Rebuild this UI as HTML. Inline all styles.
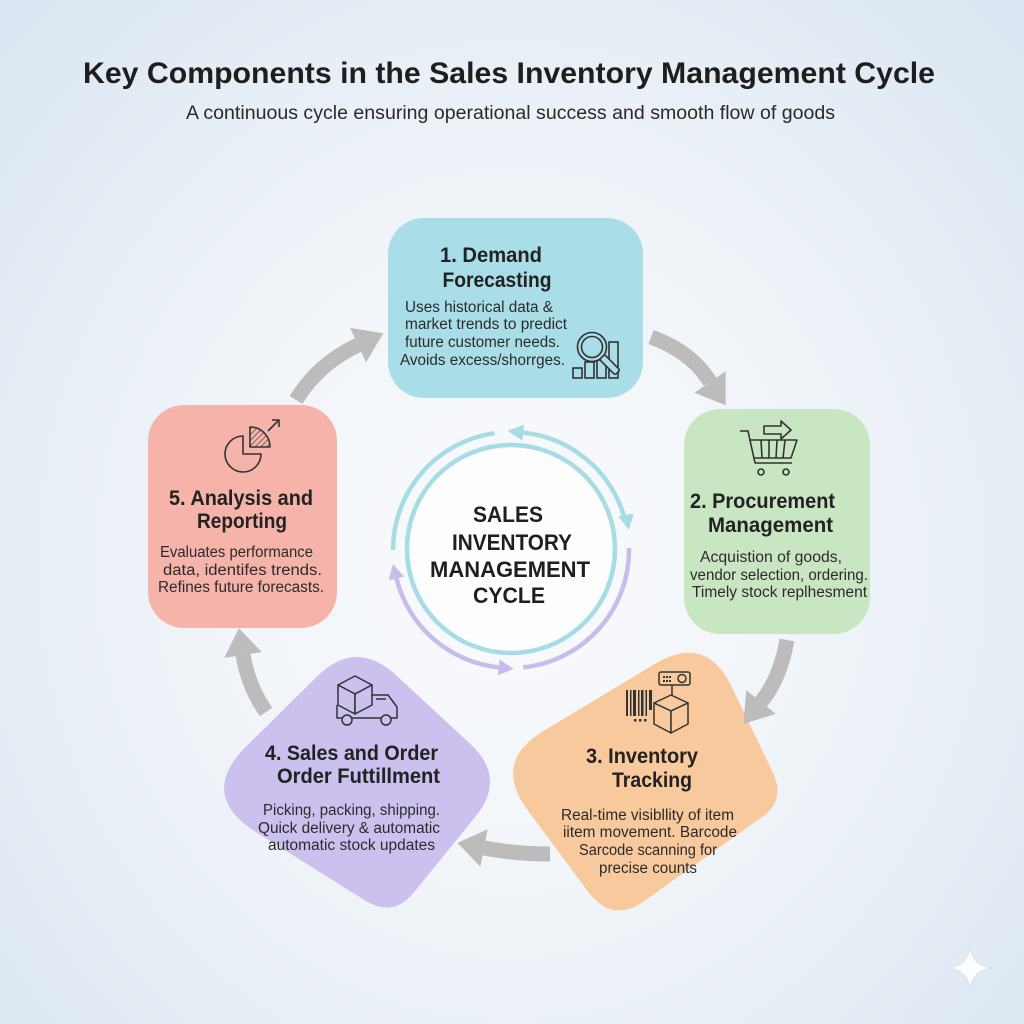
<!DOCTYPE html>
<html><head><meta charset="utf-8"><style>
html,body{margin:0;padding:0;width:1024px;height:1024px;overflow:hidden;}
body{background:radial-gradient(ellipse at 50% 55%, #fafbfd 0%, #f1f5f9 40%, #e2ebf4 80%, #d9e5f1 100%);}
svg{display:block;}
text{font-family:"Liberation Sans",Arial,sans-serif;}
.t{font-weight:700;font-size:21px;fill:#222;}
.b{font-size:15.5px;fill:#2b2b2b;}
.c{font-weight:700;font-size:22px;fill:#1f1f1f;}
</style></head><body>
<svg width="1024" height="1024" viewBox="0 0 1024 1024" xmlns="http://www.w3.org/2000/svg">
<!-- title -->
<text x="509" y="83" text-anchor="middle" font-weight="700" font-size="30" fill="#1e1e1e" textLength="852" lengthAdjust="spacingAndGlyphs">Key Components in the Sales Inventory Management Cycle</text>
<text x="510.5" y="119" text-anchor="middle" font-size="19" fill="#2a2a2a" textLength="649" lengthAdjust="spacingAndGlyphs">A continuous cycle ensuring operational success and smooth flow of goods</text>

<!-- boxes -->
<rect x="388" y="218" width="255" height="180" rx="36" fill="#a9dde7"/>
<rect x="684" y="409" width="186" height="225" rx="36" fill="#c9e6c2"/>
<rect x="148" y="405" width="189" height="223" rx="36" fill="#f5b3aa"/>
<path d="M 654.6,664 Q 706,633 731.9,687.1 L 773,772.9 Q 786,800 761.6,817.4 L 644.6,900.8 Q 612,924 588.2,891.8 L 527.7,810.2 Q 492,762 543.4,731 Z" fill="#f8c99d"/>
<path d="M 316.8,676.7 Q 356,638 396.3,675.4 L 470.4,744 Q 507,778 475.4,816.8 L 413.9,892.4 Q 393,918 365,900.4 L 256.3,832.2 Q 197,795 246.8,745.8 Z" fill="#cbc0ee"/>

<!-- gray connector arrows -->
<g fill="none" stroke="#bcbcbc" stroke-width="15">
<path d="M 296,400 Q 318,364 358,345"/>
<path d="M 651,337 Q 692,352 710,382"/>
<path d="M 787,640 Q 780,679 761,702"/>
<path d="M 550,854 Q 515,854 484,848"/>
<path d="M 266,712 Q 248,686 243,655"/>
</g>
<g fill="#bcbcbc">
<polygon points="383.4,333.3 350,327.7 366,362.3"/>
<polygon points="725.7,405.2 725.7,371.3 694.3,392.7"/>
<polygon points="743.5,723.9 775.8,713.9 746.2,690.1"/>
<polygon points="457.5,842.9 487.6,829.3 480.4,866.7"/>
<polygon points="238.9,628.3 261.8,652.1 224.2,657.9"/>
</g>

<!-- center cycle -->
<circle cx="511" cy="549" r="104" fill="#ffffff" fill-opacity="0.7" stroke="#a6dce3" stroke-width="4.5"/>
<g fill="none" stroke-width="4.5" stroke-linecap="butt">
<path d="M 393,550 A 118 118 0 0 1 494.6,433.2" stroke="#a6dce3"/>
<path d="M 523.3,432.6 A 118 118 0 0 1 623.8,515.5" stroke="#a6dce3"/>
<path d="M 629,547.9 A 118 118 0 0 1 523.3,667.4" stroke="#c6bdea"/>
<path d="M 396.5,578.5 A 118 118 0 0 0 498.7,667.4" stroke="#c6bdea"/>
</g>
<polygon points="507.4,430.9 524.1,424.6 522.5,440.6" fill="#a6dce3"/>
<polygon points="628.9,529.7 633.9,513.5 618.1,516.5" fill="#a6dce3"/>
<polygon points="392.9,564 404.3,576.6 388.7,580.4" fill="#c6bdea"/>
<polygon points="513.7,669 497.9,675.4 499.5,659.4" fill="#c6bdea"/>
<text class="c" x="508" y="522" text-anchor="middle" textLength="70" lengthAdjust="spacingAndGlyphs">SALES</text>
<text class="c" x="512" y="550" text-anchor="middle" textLength="120" lengthAdjust="spacingAndGlyphs">INVENTORY</text>
<text class="c" x="510" y="577" text-anchor="middle" textLength="160" lengthAdjust="spacingAndGlyphs">MANAGEMENT</text>
<text class="c" x="509" y="603" text-anchor="middle" textLength="72" lengthAdjust="spacingAndGlyphs">CYCLE</text>

<!-- box 1 text -->
<text class="t" x="491" y="262" text-anchor="middle" textLength="102" lengthAdjust="spacingAndGlyphs">1. Demand</text>
<text class="t" x="497" y="287" text-anchor="middle" textLength="109" lengthAdjust="spacingAndGlyphs">Forecasting</text>
<text class="b" x="479" y="312" text-anchor="middle" textLength="148" lengthAdjust="spacingAndGlyphs">Uses historical data &amp;</text>
<text class="b" x="486" y="329" text-anchor="middle" textLength="162" lengthAdjust="spacingAndGlyphs">market trends to predict</text>
<text class="b" x="482.5" y="347" text-anchor="middle" textLength="155" lengthAdjust="spacingAndGlyphs">future customer needs.</text>
<text class="b" x="482.5" y="365" text-anchor="middle" textLength="165" lengthAdjust="spacingAndGlyphs">Avoids excess/shorrges.</text>
<!-- magnifier icon -->
<g stroke="#333" stroke-width="1.6" fill="none">
<rect x="573" y="368" width="9" height="10"/>
<rect x="585" y="362" width="9" height="16"/>
<rect x="597" y="360" width="9" height="18"/>
<rect x="609" y="342" width="9" height="36"/>
<circle cx="592" cy="347" r="14.5" fill="#a9dde7"/>
<circle cx="592" cy="347" r="10.5"/>
<rect x="-3.5" y="0" width="7" height="22" rx="2" fill="#a9dde7" transform="translate(602,357) rotate(-45)"/>
</g>

<!-- box 2 -->
<g stroke="#333" stroke-width="1.6" fill="none" stroke-linejoin="round">
<path d="M740,431 L748,431 L755,463 L792,463"/>
<path d="M749,440 L797,440 L791,458 L754,458"/>
<line x1="761" y1="440" x2="762" y2="458"/><line x1="769" y1="440" x2="769" y2="458"/><line x1="777" y1="440" x2="776" y2="458"/><line x1="785" y1="440" x2="783" y2="458"/>
<circle cx="761" cy="472" r="3"/><circle cx="786" cy="472" r="3"/>
<polygon points="764,426 781,426 781,421 791,430 781,439 781,434 764,434"/>
</g>
<text class="t" x="762.5" y="508" text-anchor="middle" textLength="145" lengthAdjust="spacingAndGlyphs">2. Procurement</text>
<text class="t" x="770.5" y="532" text-anchor="middle" textLength="125" lengthAdjust="spacingAndGlyphs">Management</text>
<text class="b" x="771" y="562" text-anchor="middle" textLength="142" lengthAdjust="spacingAndGlyphs">Acquistion of goods,</text>
<text class="b" x="779" y="580" text-anchor="middle" textLength="178" lengthAdjust="spacingAndGlyphs">vendor selection, ordering.</text>
<text class="b" x="779.5" y="597" text-anchor="middle" textLength="175" lengthAdjust="spacingAndGlyphs">Timely stock replhesment</text>

<!-- box 3 -->
<g fill="#333">
<rect x="626" y="690" width="2" height="26"/><rect x="630" y="690" width="1.5" height="26"/><rect x="633" y="690" width="3" height="26"/><rect x="638" y="690" width="1.5" height="26"/><rect x="641" y="690" width="2.5" height="26"/><rect x="645.5" y="690" width="1.5" height="26"/><rect x="649" y="690" width="3" height="20"/>
<rect x="634" y="719" width="2.5" height="2.5"/><rect x="639" y="719" width="2.5" height="2.5"/><rect x="644" y="719" width="2.5" height="2.5"/>
</g>
<g stroke="#333" stroke-width="1.5" fill="#f8c99d" stroke-linejoin="round">
<rect x="659" y="672" width="31" height="13" rx="2"/>
<circle cx="682" cy="678.5" r="4"/>
<line x1="672" y1="685" x2="672" y2="696"/>
<polygon points="654,703 671,695 688,703 671,711"/>
<polygon points="654,703 654,724 671,733 671,711"/>
<polygon points="671,711 671,733 688,724 688,703"/>
</g>
<g fill="#333"><rect x="663" y="676" width="2" height="2"/><rect x="666" y="676" width="2" height="2"/><rect x="669" y="676" width="2" height="2"/><rect x="663" y="680" width="2" height="2"/><rect x="666" y="680" width="2" height="2"/><rect x="669" y="680" width="2" height="2"/></g>
<text class="t" x="642" y="763" text-anchor="middle" textLength="112" lengthAdjust="spacingAndGlyphs">3. Inventory</text>
<text class="t" x="652" y="787" text-anchor="middle" textLength="80" lengthAdjust="spacingAndGlyphs">Tracking</text>
<text class="b" x="647.5" y="820" text-anchor="middle" textLength="173" lengthAdjust="spacingAndGlyphs">Real-time visibllity of item</text>
<text class="b" x="650" y="837" text-anchor="middle" textLength="174" lengthAdjust="spacingAndGlyphs">iitem movement. Barcode</text>
<text class="b" x="648" y="855" text-anchor="middle" textLength="138" lengthAdjust="spacingAndGlyphs">Sarcode scanning for</text>
<text class="b" x="648" y="873" text-anchor="middle" textLength="98" lengthAdjust="spacingAndGlyphs">precise counts</text>

<!-- box 4 -->
<g stroke="#333" stroke-width="1.5" fill="#cbc0ee" stroke-linejoin="round">
<path d="M337,705 L337,718 L397,718 L397,707 L388,695 L372,695" fill="none"/>
<polygon points="338,685 355,676 372,685 355,694"/>
<polygon points="338,685 338,705 355,714 355,694"/>
<polygon points="355,694 355,714 372,705 372,685"/>
<line x1="376" y1="699" x2="386" y2="699" fill="none"/>
<circle cx="347" cy="720" r="5"/>
<circle cx="386" cy="720" r="5"/>
</g>
<text class="t" x="351.5" y="760" text-anchor="middle" textLength="173" lengthAdjust="spacingAndGlyphs">4. Sales and Order</text>
<text class="t" x="358.5" y="783" text-anchor="middle" textLength="163" lengthAdjust="spacingAndGlyphs">Order Futtillment</text>
<text class="b" x="351.5" y="815" text-anchor="middle" textLength="177" lengthAdjust="spacingAndGlyphs">Picking, packing, shipping.</text>
<text class="b" x="349" y="833" text-anchor="middle" textLength="182" lengthAdjust="spacingAndGlyphs">Quick delivery &amp; automatic</text>
<text class="b" x="351.5" y="850" text-anchor="middle" textLength="167" lengthAdjust="spacingAndGlyphs">automatic stock updates</text>

<!-- box 5 -->
<defs><pattern id="h" width="4" height="4" patternUnits="userSpaceOnUse" patternTransform="rotate(45)"><line x1="0" y1="0" x2="0" y2="4" stroke="#333" stroke-width="1.2"/></pattern></defs>
<g stroke="#333" stroke-width="1.6" fill="none" stroke-linejoin="round">
<path d="M 243,436 A 18 18 0 1 0 261,454 L 243,454 Z"/>
<path d="M 250,427 A 20 20 0 0 1 270,447 L 250,447 Z" fill="url(#h)"/>
<line x1="268" y1="431" x2="279" y2="420"/>
<polyline points="272,420 279,420 279,427"/>
</g>
<text class="t" x="241" y="505" text-anchor="middle" textLength="144" lengthAdjust="spacingAndGlyphs">5. Analysis and</text>
<text class="t" x="242" y="528" text-anchor="middle" textLength="90" lengthAdjust="spacingAndGlyphs">Reporting</text>
<text class="b" x="236.5" y="557" text-anchor="middle" textLength="153" lengthAdjust="spacingAndGlyphs">Evaluates performance</text>
<text class="b" x="242.5" y="575" text-anchor="middle" textLength="159" lengthAdjust="spacingAndGlyphs">data, identifes trends.</text>
<text class="b" x="241" y="592" text-anchor="middle" textLength="166" lengthAdjust="spacingAndGlyphs">Refines future forecasts.</text>

<!-- sparkle -->
<path d="M970,946 Q972,966 992,968 Q972,970 970,990 Q968,970 948,968 Q968,966 970,946 Z" fill="#ffffff" fill-opacity="0.9" stroke="#d5dde6" stroke-width="0.8"/>
</svg>
</body></html>
